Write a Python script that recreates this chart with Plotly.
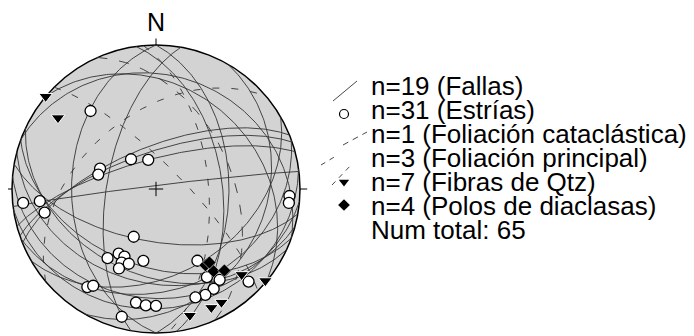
import numpy as np
import plotly.graph_objects as go

# Fallas: dirección de buzamiento / buzamiento (grados)
fallas_dd = [353, 341, 338, 345, 190, 200, 205, 195, 185, 172, 160, 150, 82, 90, 270, 280, 20, 40, 120]
fallas_dip = [88, 69, 66, 73, 60, 45, 40, 35, 25, 18, 30, 40, 52, 48, 41, 62, 22, 30, 25]

# Foliaciones
fcat_dd = [66]
fcat_dip = [46]
fpri_dd = [320, 45, 85]
fpri_dip = [47, 76, 60]

# Estrías: dirección / inmersión
estrias_trend = [320, 320, 345, 290, 284, 264, 264, 258, 93, 96, 205, 215, 210, 205, 205,
                 205, 190, 215, 213, 190, 185, 180, 195, 150, 150, 145, 135, 150, 155, 160, 200]
estrias_plunge = [30, 68, 73, 56, 56, 8, 20, 22, 8, 8, 60, 41, 47, 47, 43,
                  39, 48, 18, 21, 21, 20, 20, 9, 42, 30, 24, 10, 21, 20, 21, 44]

# Fibras de Qtz
fibras_trend = [310, 306, 135, 130, 150, 155, 165]
fibras_plunge = [0, 17, 17, 1, 10, 10, 10]

# Polos de diaclasas
polos_trend = [147, 145, 140, 144]
polos_plunge = [37, 31, 27, 37]

legend_labels = ["n=19 (Fallas)", "n=31 (Estrías)", "n=1 (Foliación cataclástica)",
                 "n=3 (Foliación principal)", "n=7 (Fibras de Qtz)", "n=4 (Polos de diaclasas)",
                 "Num total: 65"]

# la página deja 8 px de margen en el body
OFF = 8
W, H = 694 - OFF, 336 - OFF
CX, CY, R = 156, 189, 144


def proj(trend, plunge):
    # Schmidt (igual área), hemisferio inferior
    t = np.radians(np.asarray(trend, dtype=float))
    p = np.radians(np.asarray(plunge, dtype=float))
    r = np.sqrt(2) * np.sin((np.pi / 2 - p) / 2)
    return r * np.sin(t), r * np.cos(t)


def great_circle(dd, dip, n=181):
    a = np.linspace(0, np.pi, n)
    s = np.radians(dd - 90)
    d = np.radians(dd)
    dp = np.radians(dip)
    sv = np.array([np.sin(s), np.cos(s), 0.0])
    dv = np.array([np.cos(dp) * np.sin(d), np.cos(dp) * np.cos(d), -np.sin(dp)])
    v = np.outer(np.cos(a), sv) + np.outer(np.sin(a), dv)
    plunge = np.degrees(np.arcsin(np.clip(-v[:, 2], -1, 1)))
    trend = np.degrees(np.arctan2(v[:, 0], v[:, 1]))
    return proj(trend, plunge)


def circles(dds, dips):
    xs, ys = [], []
    for dd, dip in zip(dds, dips):
        x, y = great_circle(dd, dip)
        xs += list(x) + [None]
        ys += list(y) + [None]
    return xs, ys


def px(x, y):
    # pixel de la página -> coordenadas del diagrama
    return (x - CX) / R, (CY - y) / R


line_col = "#333333"
fig = go.Figure()

x, y = circles(fallas_dd, fallas_dip)
fig.add_trace(go.Scatter(x=x, y=y, mode="lines", line=dict(color=line_col, width=0.9)))
x, y = circles(fcat_dd, fcat_dip)
fig.add_trace(go.Scatter(x=x, y=y, mode="lines", line=dict(color=line_col, width=0.9, dash="10px,12px")))
x, y = circles(fpri_dd, fpri_dip)
fig.add_trace(go.Scatter(x=x, y=y, mode="lines", line=dict(color=line_col, width=0.9, dash="7px,12px")))

x, y = proj(estrias_trend, estrias_plunge)
fig.add_trace(go.Scatter(x=x, y=y, mode="markers",
                         marker=dict(symbol="circle", size=11, color="white", line=dict(color="black", width=1.3))))
x, y = proj(fibras_trend, fibras_plunge)
fig.add_trace(go.Scatter(x=x, y=y, mode="markers",
                         marker=dict(symbol="triangle-down", size=12, color="black", line=dict(color="white", width=1))))
x, y = proj(polos_trend, polos_plunge)
fig.add_trace(go.Scatter(x=x, y=y, mode="markers",
                         marker=dict(symbol="diamond", size=10, color="black", line=dict(color="white", width=0.5))))

# leyenda
rows = [86, 110, 134, 158, 182, 206, 230]
for lab, ry in zip(legend_labels, rows):
    ax, ay = px(369, ry)
    fig.add_annotation(x=ax, y=ay, text=lab, showarrow=False, xanchor="left", yanchor="middle",
                       font=dict(family="Liberation Sans, Arial", size=26, color="black"))

seg = lambda p0, p1, dash: go.Scatter(x=[px(*p0)[0], px(*p1)[0]], y=[px(*p0)[1], px(*p1)[1]], mode="lines",
                                      line=dict(color=line_col, width=0.9, dash=dash))
fig.add_trace(seg((333, 101), (357, 81), "solid"))
fig.add_trace(seg((343, 145), (367, 132), "6px,5px"))
fig.add_trace(seg((321, 165), (336, 156), "5px,5px"))
fig.add_trace(seg((332, 185), (352, 164), "5px,5px"))
mx, my = px(344, 114)
fig.add_trace(go.Scatter(x=[mx], y=[my], mode="markers",
                         marker=dict(symbol="circle", size=9, color="white", line=dict(color="black", width=1.2))))
mx, my = px(344, 182)
fig.add_trace(go.Scatter(x=[mx], y=[my], mode="markers", marker=dict(symbol="triangle-down", size=9, color="black")))
mx, my = px(344, 205)
fig.add_trace(go.Scatter(x=[mx], y=[my], mode="markers", marker=dict(symbol="diamond", size=9, color="black")))

# primitiva, marcas y cruz central
fig.add_shape(type="circle", x0=-1, y0=-1, x1=1, y1=1, layer="below",
              fillcolor="#d3d3d3", line=dict(color="black", width=1.5))
for x0, y0, x1, y1 in [(0, 1, 0, 1.045), (-1, 0, -1.065, 0), (1, 0, 1.05, 0),
                       (-0.05, 0, 0.05, 0), (0, -0.05, 0, 0.05)]:
    fig.add_shape(type="line", x0=x0, y0=y0, x1=x1, y1=y1, line=dict(color="black", width=1))
fig.add_annotation(x=0, y=px(0, 22)[1], text="N", showarrow=False,
                   font=dict(family="Liberation Sans, Arial", size=25, color="black"))

fig.update_layout(
    width=W, height=H, margin=dict(l=0, r=0, t=0, b=0),
    showlegend=False, plot_bgcolor="white", paper_bgcolor="white",
    xaxis=dict(range=[(OFF - CX) / R, (694 - CX) / R], visible=False, showgrid=False, zeroline=False),
    yaxis=dict(range=[(CY - 336) / R, (CY - OFF) / R], visible=False, showgrid=False, zeroline=False),
)
fig.write_html("out.html")
